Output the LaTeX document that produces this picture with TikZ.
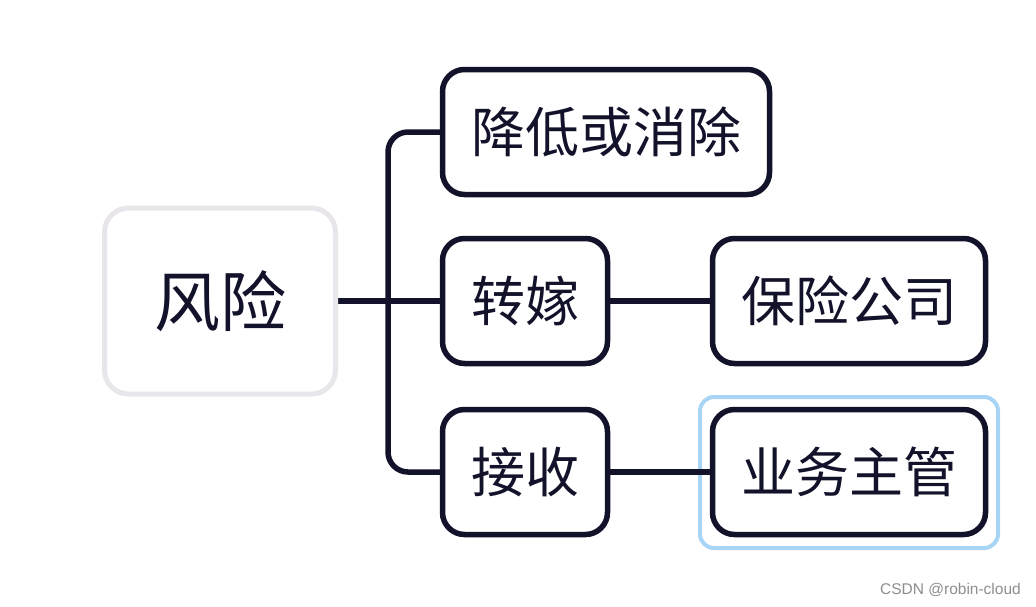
\documentclass[tikz,border=0pt]{standalone}
\usepackage{fontspec}
\setmainfont{Noto Sans CJK SC}
\newfontfamily\wmfont{Liberation Sans}
\definecolor{ink}{HTML}{12122B}
\definecolor{rootgray}{HTML}{E8E6EA}
\definecolor{selblue}{HTML}{A8D4F5}
\definecolor{wmgray}{HTML}{8E8E8E}
\tikzset{
  box/.style={draw=ink, line width=5.5pt, rounded corners=22pt, fill=white, text=ink,
    font=\fontsize{54}{60}\selectfont, inner sep=0pt, minimum height=125pt},
  rootbox/.style={draw=rootgray, line width=5pt, rounded corners=24pt, fill=white, text=ink,
    font=\fontsize{66}{72}\selectfont, inner sep=0pt, minimum width=231pt, minimum height=186pt},
  conn/.style={draw=ink, line width=5.5pt},
  sel/.style={draw=selblue, line width=4pt, rounded corners=14pt},
  ghost/.style={draw=none, fill=none, text opacity=0},
}
\begin{document}
\begin{tikzpicture}[x=1pt,y=-1pt]
\useasboundingbox (0,0) rectangle (1036,606);
\fill[white] (0,0) rectangle (1036,606);
% positions
\coordinate (rootc) at (220,301);
\coordinate (c1c) at (606,132);
\coordinate (c2c) at (525,301);
\coordinate (c3c) at (525,472);
\coordinate (g1c) at (849,301);
\coordinate (g2c) at (849,472);
% selection frame
\draw[sel] (700,397) rectangle (998,548);
% nodes (placeholders for anchors)
\node[rootbox, ghost] (root) at (rootc) {风险};
\node[box, minimum width=327pt, ghost] (c1) at (c1c) {降低或消除};
\node[box, minimum width=165pt, ghost] (c2) at (c2c) {转嫁};
\node[box, minimum width=165pt, ghost] (c3) at (c3c) {接收};
\node[box, minimum width=273pt, ghost] (g1) at (g1c) {保险公司};
\node[box, minimum width=273pt, ghost] (g2) at (g2c) {业务主管};
% connectors
\coordinate (bar) at (388,300);
\draw[conn] (root.east) -- (c2.west);
\draw[conn, rounded corners=20pt] (c1.west) -| (bar) |- (c3.west);
\draw[conn] (c2.east) -- (g1.west);
\draw[conn] (c3.east) -- (g2.west);
% visible nodes
\node[rootbox] (rootv) at (rootc) {风险};
\node[box, minimum width=327pt] (c1v) at (c1c) {降低或消除};
\node[box, minimum width=165pt] (c2v) at (c2c) {转嫁};
\node[box, minimum width=165pt] (c3v) at (c3c) {接收};
\node[box, minimum width=273pt] (g1v) at (g1c) {保险公司};
\node[box, minimum width=273pt] (g2v) at (g2c) {业务主管};
% watermark
\node[anchor=east, inner sep=0pt, text=wmgray, font=\wmfont\fontsize{15.5}{17}\selectfont] (wm) at (1021,590) {CSDN @robin-cloud};
\end{tikzpicture}
\end{document}
